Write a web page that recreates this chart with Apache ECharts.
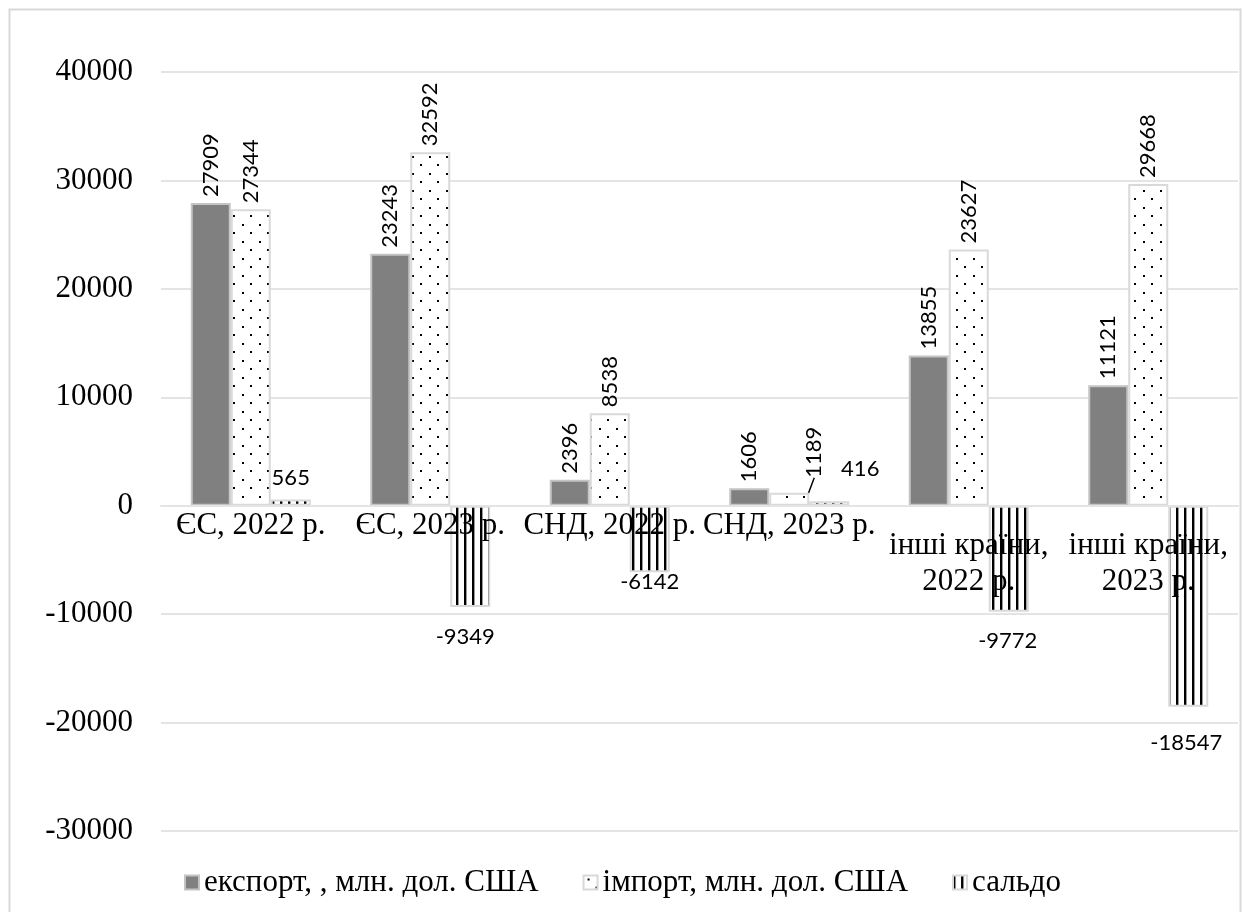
<!DOCTYPE html>
<html>
<head>
<meta charset="utf-8">
<script src="https://cdn.jsdelivr.net/npm/echarts@6/dist/echarts.min.js"></script>
<style>
  html, body { margin: 0; padding: 0; background: #fff; }
  #chart { width: 1242px; height: 912px; }
</style>
</head>
<body>
<div id="chart"></div>
<script>
// Зовнішня торгівля України за регіонами, млн. дол. США
const categories = ['ЄС, 2022 р.', 'ЄС, 2023 р.', 'СНД, 2022 р.', 'СНД, 2023 р.', 'інші країни,\n2022 р.', 'інші країни,\n2023 р.'];
const seriesNames = ['експорт, , млн. дол. США', 'імпорт, млн. дол. США', 'сальдо'];
const exportValues = [27909, 23243, 2396, 1606, 13855, 11121];
const importValues = [27344, 32592, 8538, 1189, 23627, 29668];
const balanceValues = [565, -9349, -6142, 416, -9772, -18547];
const yMin = -30000, yMax = 40000, yStep = 10000;

// hand-placed balance label offsets [dx, dy]
const balanceLabelOffsets = [[0, -6], [-5, 14], [0, -6], [31, -16], [-1, 13], [-2, 20]];

const serif = '"Liberation Serif", "Times New Roman", serif';
const sans = 'Lato, "Noto Sans", sans-serif';

const GRID = { left: 161, right: 4, top: 72, bottom: 81 };
const CHART_H = 912;

function dotPattern() {
  const c = document.createElement('canvas');
  c.width = 17; c.height = 17;
  const g = c.getContext('2d');
  g.fillStyle = '#ffffff'; g.fillRect(0, 0, 17, 17);
  g.fillStyle = '#000000';
  g.fillRect(4, 3, 2, 2);
  g.fillRect(12, 11, 2, 2);
  return c;
}
function stripePattern() {
  const c = document.createElement('canvas');
  c.width = 8; c.height = 8;
  const g = c.getContext('2d');
  g.fillStyle = '#ffffff'; g.fillRect(0, 0, 8, 8);
  g.fillStyle = '#000000'; g.fillRect(0, 0, 2.4, 8);
  return c;
}

// wrapped (two-line) category labels sit a little lower than single-line ones
const categoryData = categories.map(c => c.indexOf('\n') >= 0
  ? { value: c, textStyle: { padding: [20, 0, 0, 0] } }
  : c);

const rotatedLabel = {
  show: true, position: 'top', rotate: 90, align: 'left', verticalAlign: 'middle',
  distance: 6, color: '#000', fontFamily: sans, fontSize: 22
};

const chart = echarts.init(document.getElementById('chart'), null, { renderer: 'canvas' });
chart.setOption({
  animation: false,
  backgroundColor: '#fff',
  graphic: [{
    type: 'rect', left: 7, top: 7, silent: true, z: -10,
    shape: { width: 1231, height: 1000 },
    style: { fill: null, stroke: '#d9d9d9', lineWidth: 2 }
  }],
  grid: Object.assign({ containLabel: false, outerBoundsMode: 'none' }, GRID),
  legend: {
    left: 179, top: 862,
    itemWidth: 14, itemHeight: 14, itemGap: 44, icon: 'rect',
    textStyle: { fontFamily: serif, fontSize: 31, color: '#000' },
    data: seriesNames
  },
  xAxis: {
    type: 'category', data: categoryData, z: 5,
    position: 'bottom',
    axisLine: { show: true, onZero: false, lineStyle: { color: '#e4e4e4', width: 2 } },
    axisTick: { show: false },
    splitLine: { show: false },
    axisLabel: {
      interval: 0, hideOverlap: false, margin: 2,
      fontFamily: serif, fontSize: 31, color: '#000', lineHeight: 36
    }
  },
  yAxis: {
    type: 'value', min: yMin, max: yMax, interval: yStep,
    axisLine: { show: false }, axisTick: { show: false },
    splitLine: { lineStyle: { color: '#e4e4e4', width: 2 } },
    axisLabel: {
      margin: 28, fontFamily: serif, fontSize: 31, color: '#000',
      formatter: v => String(v)
    }
  },
  series: [
    {
      name: seriesNames[0], type: 'bar', barWidth: 40, barGap: '0%',
      data: exportValues,
      itemStyle: { color: '#808080', borderColor: '#c4c4c4', borderWidth: 2 },
      label: rotatedLabel
    },
    {
      name: seriesNames[1], type: 'bar', barWidth: 40, barGap: '0%',
      data: importValues.map((v, i) => i === 3
        ? { value: v, labelLine: { show: true, lineStyle: { color: '#000', width: 1.5 } } }
        : v),
      itemStyle: { color: { image: dotPattern(), repeat: 'repeat' }, borderColor: '#d9d9d9', borderWidth: 2 },
      label: rotatedLabel,
      labelLine: { show: false },
      // the small CIS 2023 import label is pulled up and to the right
      // (dx/dy act in the rotated label frame)
      labelLayout: function (p) {
        if (p.dataIndex === 3) return { dx: 9, dy: 25 };
        return {};
      }
    },
    {
      name: seriesNames[2], type: 'bar', barWidth: 40, barGap: '0%',
      data: balanceValues.map((v, i) => ({
        value: v,
        label: { position: v < 0 ? 'bottom' : 'top', offset: balanceLabelOffsets[i] }
      })),
      itemStyle: { color: { image: stripePattern(), repeat: 'repeat' }, borderColor: '#d9d9d9', borderWidth: 2 },
      label: { show: true, distance: 5, color: '#000', fontFamily: sans, fontSize: 22 }
    }
  ]
});

// lift the category axis (line + labels) onto the zero value line
const zeroY = chart.convertToPixel({ yAxisIndex: 0 }, 0);
const plotBottomY = CHART_H - GRID.bottom;
chart.setOption({ xAxis: { offset: -(plotBottomY - zeroY) } });
</script>
</body>
</html>
